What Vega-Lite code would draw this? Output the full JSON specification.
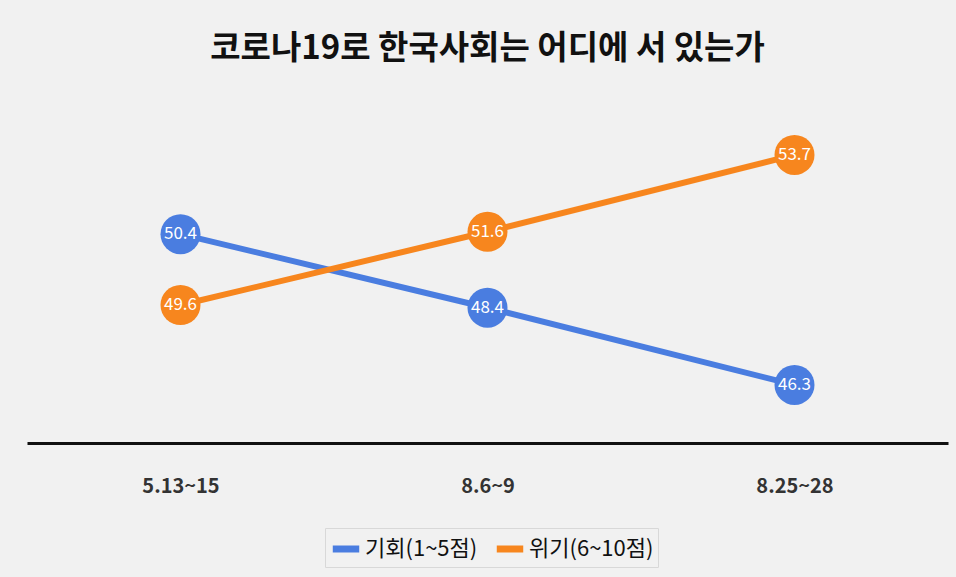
{
  "$schema": "https://vega.github.io/schema/vega-lite/v6.json",
  "autosize": "none",
  "width": 921,
  "height": 343,
  "padding": {"left": 27, "top": 100, "right": 8, "bottom": 134},
  "background": "#f1f1f1",
  "title": {"text": "코로나19로 한국사회는 어디에 서 있는가", "fontSize": 33, "font": "Noto Sans CJK KR", "fontWeight": "bold", "color": "#111111", "anchor": "middle", "offset": 34},
  "config": {"font": "Noto Sans CJK KR", "view": {"stroke": null}},
  "data": {"values": [
    {"period": "5.13~15", "series": "기회(1~5점)", "value": 50.4},
    {"period": "8.6~9", "series": "기회(1~5점)", "value": 48.4},
    {"period": "8.25~28", "series": "기회(1~5점)", "value": 46.3},
    {"period": "5.13~15", "series": "위기(6~10점)", "value": 49.6},
    {"period": "8.6~9", "series": "위기(6~10점)", "value": 51.6},
    {"period": "8.25~28", "series": "위기(6~10점)", "value": 53.7}
  ]},
  "encoding": {
    "x": {"field": "period", "type": "ordinal", "sort": ["5.13~15", "8.6~9", "8.25~28"], "scale": {"type": "point", "padding": 0.5},
      "axis": {"title": null, "labelAngle": 0, "ticks": false, "grid": false, "domainColor": "#111111", "domainWidth": 3, "labelPadding": 33, "labelFontSize": 20, "labelFontWeight": "bold", "labelColor": "#333333"}},
    "color": {"field": "series", "type": "nominal", "scale": {"domain": ["기회(1~5점)", "위기(6~10점)"], "range": ["#4a7de0", "#f7861e"]},
      "legend": {"title": null, "orient": "none", "legendX": 298, "legendY": 428, "direction": "horizontal", "symbolType": "stroke", "symbolStrokeWidth": 7, "symbolSize": 700, "labelFontSize": 22, "labelColor": "#111111", "columnPadding": 4, "labelOffset": 2, "strokeColor": "#d8d8d8", "padding": 4}}
  },
  "layer": [
    {
      "transform": [{"filter": "datum.series == '기회(1~5점)'"}],
      "encoding": {"y": {"field": "value", "type": "quantitative", "scale": {"domain": [44.72, 54.05], "zero": false, "nice": false}, "axis": null}},
      "layer": [
        {"mark": {"type": "line", "strokeWidth": 6}},
        {"mark": {"type": "point", "filled": true, "opacity": 1, "size": 1600}},
        {"mark": {"type": "text", "color": "white", "fontSize": 17}, "encoding": {"text": {"field": "value", "format": ".1f"}, "color": {"value": "white"}}}
      ]
    },
    {
      "transform": [{"filter": "datum.series == '위기(6~10점)'"}],
      "encoding": {"y": {"field": "value", "type": "quantitative", "scale": {"domain": [45.83, 55.2], "zero": false, "nice": false}, "axis": null}},
      "layer": [
        {"mark": {"type": "line", "strokeWidth": 6}},
        {"mark": {"type": "point", "filled": true, "opacity": 1, "size": 1600}},
        {"mark": {"type": "text", "color": "white", "fontSize": 17}, "encoding": {"text": {"field": "value", "format": ".1f"}, "color": {"value": "white"}}}
      ]
    }
  ],
  "resolve": {"scale": {"y": "independent"}}
}
